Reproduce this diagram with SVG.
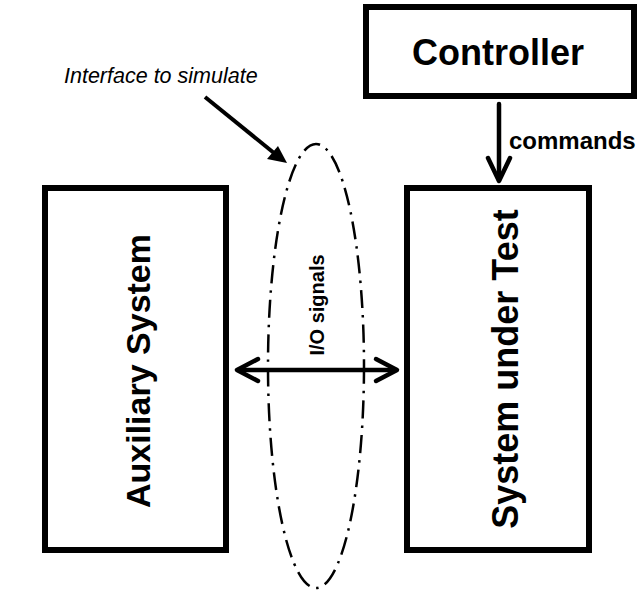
<svg xmlns="http://www.w3.org/2000/svg" width="643" height="590" viewBox="0 0 643 590">
<style>
.box{fill:#fff;stroke:#000;stroke-width:6}
.lbl{font-family:"Liberation Sans",Arial,sans-serif;font-weight:bold;fill:#000}
.ln{fill:none;stroke:#000;stroke-width:4.5;stroke-linecap:round;stroke-linejoin:round}
</style>
<rect width="643" height="590" fill="#fff"/>
<g id="controller">
<rect class="box" x="366" y="7" width="268" height="89"/>
<text class="lbl" x="498" y="65" font-size="36" text-anchor="middle">Controller</text>
</g>
<g id="auxiliary">
<rect class="box" x="45" y="188" width="181" height="362"/>
<text class="lbl" font-size="34" text-anchor="middle" transform="translate(150,371) rotate(-90)">Auxiliary System</text>
</g>
<g id="sut">
<rect class="box" x="407" y="188" width="182" height="362"/>
<text class="lbl" font-size="36" text-anchor="middle" transform="translate(518,369) rotate(-90)">System under Test</text>
</g>
<g id="interface">
<ellipse cx="316" cy="366" rx="48" ry="222" fill="none" stroke="#000" stroke-width="2.5" stroke-dasharray="18 7 2.5 7"/>
<text font-family="Liberation Sans,Arial,sans-serif" font-style="italic" font-size="21.5" x="64" y="83">Interface to simulate</text>
</g>
<g id="connectors">
<line class="ln" x1="499" y1="104" x2="499" y2="180"/>
<polyline class="ln" points="488,158 499,181 510,158"/>
<text class="lbl" font-size="24" x="509" y="149">commands</text>
<line class="ln" x1="238" y1="370" x2="396" y2="370"/>
<polyline class="ln" points="258,359 237,370 258,381"/>
<polyline class="ln" points="376,359 397,370 376,381"/>
<text class="lbl" font-size="20" text-anchor="middle" transform="translate(324,305) rotate(-90)">I/O signals</text>
<line x1="205" y1="97" x2="274" y2="153" stroke="#000" stroke-width="4"/>
<polygon points="287,163 267,159 278,146" fill="#000"/>
</g>
</svg>
